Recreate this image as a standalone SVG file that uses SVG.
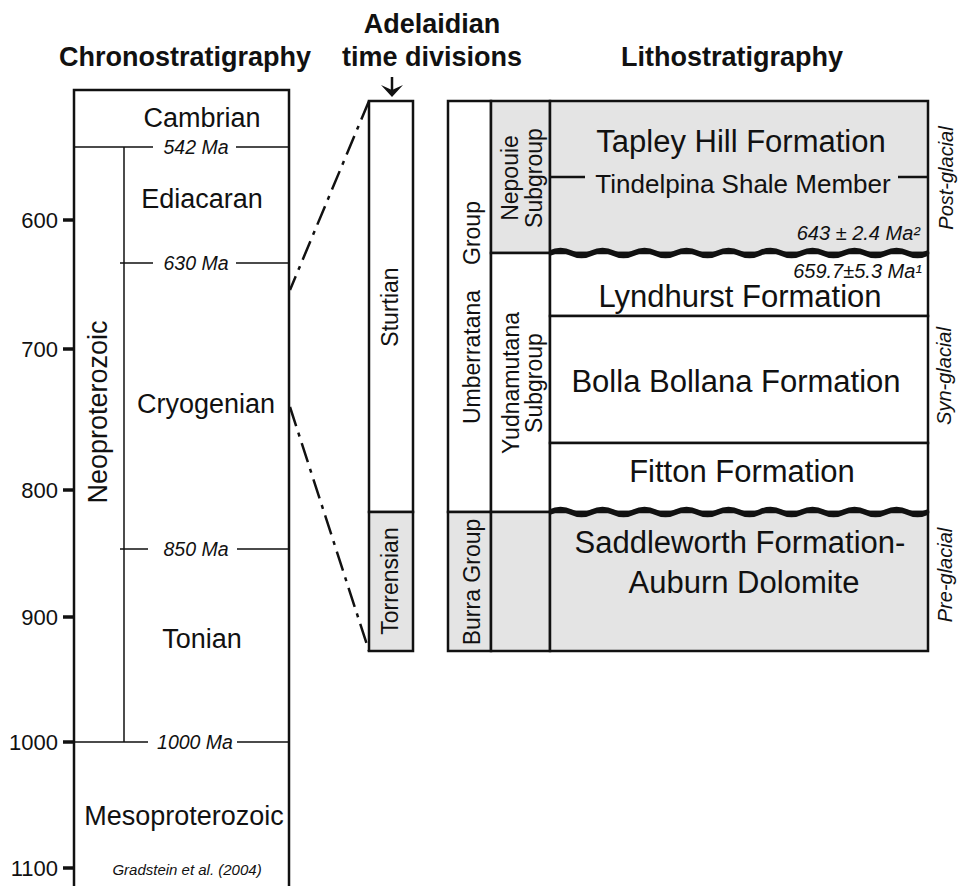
<svg xmlns="http://www.w3.org/2000/svg" width="959" height="886" viewBox="0 0 959 886">
<defs><style>
text{font-family:"Liberation Sans",Arial,sans-serif;fill:#111}
.h{font-weight:bold;font-size:27px;text-anchor:middle}
.lbl{font-size:27px;text-anchor:middle}
.fm{font-size:31px;text-anchor:middle}
.age{font-size:19.5px;font-style:italic;text-anchor:middle}
.dt{font-size:20px;font-style:italic;text-anchor:end}
.tick{font-size:22px;text-anchor:end}
.rot{font-size:23px;text-anchor:middle}
.gl{font-size:20px;font-style:italic;text-anchor:middle}
.box{fill:#fff;stroke:#111;stroke-width:2.5}
.grey{fill:#e4e4e4;stroke:#111;stroke-width:2.5}
.thin{stroke:#111;stroke-width:1.5;fill:none}
.med{stroke:#111;stroke-width:2.5;fill:none}
.tk{stroke:#111;stroke-width:3.5}
.wave{fill:none;stroke:#111;stroke-width:5.5}
.dd{fill:none;stroke:#111;stroke-width:2.5;stroke-dasharray:20 7 4 7}
</style></defs>
<rect width="959" height="886" fill="#fff"/>

<g id="headers">
<text class="h" x="185" y="66">Chronostratigraphy</text>
<text class="h" x="432" y="33">Adelaidian</text>
<text class="h" x="432" y="66">time divisions</text>
<text class="h" x="732" y="66">Lithostratigraphy</text>
</g>

<g id="chronostratigraphy">
<rect class="box" x="74" y="90" width="215" height="820"/>
<g id="axis">
<line class="tk" x1="63" y1="220" x2="74" y2="220"/>
<line class="tk" x1="63" y1="349" x2="74" y2="349"/>
<line class="tk" x1="63" y1="490" x2="74" y2="490"/>
<line class="tk" x1="63" y1="617" x2="74" y2="617"/>
<line class="tk" x1="63" y1="742" x2="74" y2="742"/>
<line class="tk" x1="63" y1="868" x2="74" y2="868"/>
<text class="tick" x="58" y="228">600</text>
<text class="tick" x="58" y="357">700</text>
<text class="tick" x="58" y="498">800</text>
<text class="tick" x="58" y="625">900</text>
<text class="tick" x="58" y="750">1000</text>
<text class="tick" x="58" y="876">1100</text>
</g>
<line class="thin" x1="124" y1="147" x2="124" y2="742"/>
<path class="thin" d="M74,147 H153 M236,147 H289"/>
<path class="thin" d="M120,263 H153 M236,263 H289"/>
<path class="thin" d="M120,549 H148 M237,549 H289"/>
<path class="thin" d="M74,742 H148 M237,742 H289"/>
<text class="age" x="196" y="154">542 Ma</text>
<text class="age" x="196" y="270">630 Ma</text>
<text class="age" x="196" y="556">850 Ma</text>
<text class="age" x="195" y="749">1000 Ma</text>
<text class="lbl" x="202" y="127">Cambrian</text>
<text class="lbl" x="202" y="208">Ediacaran</text>
<text class="lbl" x="206" y="413">Cryogenian</text>
<text class="lbl" x="202" y="648">Tonian</text>
<text class="lbl" x="184" y="825">Mesoproterozoic</text>
<text class="lbl" transform="translate(107,412) rotate(-90)">Neoproterozoic</text>
<text x="187" y="875" style="font-size:15px;font-style:italic;text-anchor:middle">Gradstein et al. (2004)</text>
</g>

<g id="adelaidian">
<rect class="box" x="369" y="101" width="44" height="411"/>
<rect class="grey" x="369" y="512" width="44" height="139"/>
<text class="rot" transform="translate(398,307) rotate(-90)">Sturtian</text>
<text class="rot" transform="translate(398,581) rotate(-90)">Torrensian</text>
</g>

<g id="groups">
<rect class="box" x="448" y="101" width="43" height="411"/>
<rect class="grey" x="448" y="512" width="43" height="139"/>
<text class="rot" transform="translate(480,357) rotate(-90)">Umberratana</text>
<text class="rot" transform="translate(480,233) rotate(-90)">Group</text>
<text class="rot" transform="translate(480,582) rotate(-90)">Burra Group</text>
</g>

<g id="subgroups">
<rect class="grey" x="491" y="101" width="59" height="152"/>
<rect class="box" x="491" y="253" width="59" height="259"/>
<rect class="grey" x="491" y="512" width="59" height="139"/>
<text class="rot" transform="translate(518,178) rotate(-90)">Nepouie</text>
<text class="rot" transform="translate(542,178) rotate(-90)">Subgroup</text>
<text class="rot" transform="translate(519,383) rotate(-90)">Yudnamutana</text>
<text class="rot" transform="translate(542,383) rotate(-90)">Subgroup</text>
</g>

<g id="formations">
<rect class="grey" x="550" y="101" width="378" height="152"/>
<rect class="box" x="550" y="253" width="378" height="63"/>
<rect class="box" x="550" y="316" width="378" height="127"/>
<rect class="box" x="550" y="443" width="378" height="69"/>
<rect class="grey" x="550" y="512" width="378" height="139"/>
<path class="med" d="M550,177 H585 M898,177 H928"/>
<text class="fm" x="741" y="152">Tapley Hill Formation</text>
<text x="743" y="193" style="font-size:26px;text-anchor:middle">Tindelpina Shale Member</text>
<text class="dt" x="920" y="240">643 ± 2.4 Ma²</text>
<text class="dt" x="922" y="278">659.7±5.3 Ma¹</text>
<text class="fm" x="740" y="307">Lyndhurst Formation</text>
<text class="fm" x="736" y="392">Bolla Bollana Formation</text>
<text class="fm" x="742" y="482">Fitton Formation</text>
<text class="fm" x="740" y="553">Saddleworth Formation-</text>
<text class="fm" x="744" y="593">Auburn Dolomite</text>
<path class="wave" d="M550,253 q10.5,-5 21,0 t21,0 t21,0 t21,0 t21,0 t21,0 t21,0 t21,0 t21,0 t21,0 t21,0 t21,0 t21,0 t21,0 t21,0 t21,0 t21,0 t21,0"/>
<path class="wave" d="M550,512 q10.5,-5 21,0 t21,0 t21,0 t21,0 t21,0 t21,0 t21,0 t21,0 t21,0 t21,0 t21,0 t21,0 t21,0 t21,0 t21,0 t21,0 t21,0 t21,0"/>
</g>

<g id="glacial">
<text class="gl" transform="translate(953,178) rotate(-90)">Post-glacial</text>
<text class="gl" transform="translate(951,376) rotate(-90)">Syn-glacial</text>
<text class="gl" transform="translate(952,575) rotate(-90)">Pre-glacial</text>
</g>

<g id="connectors">
<path class="dd" d="M369,101 L290,290"/>
<path class="dd" d="M290,407 L369,651"/>
<line class="med" x1="392" y1="77" x2="392" y2="92"/>
<polygon points="381,85 392,90 403,85 392,97" fill="#111"/>
</g>
</svg>
